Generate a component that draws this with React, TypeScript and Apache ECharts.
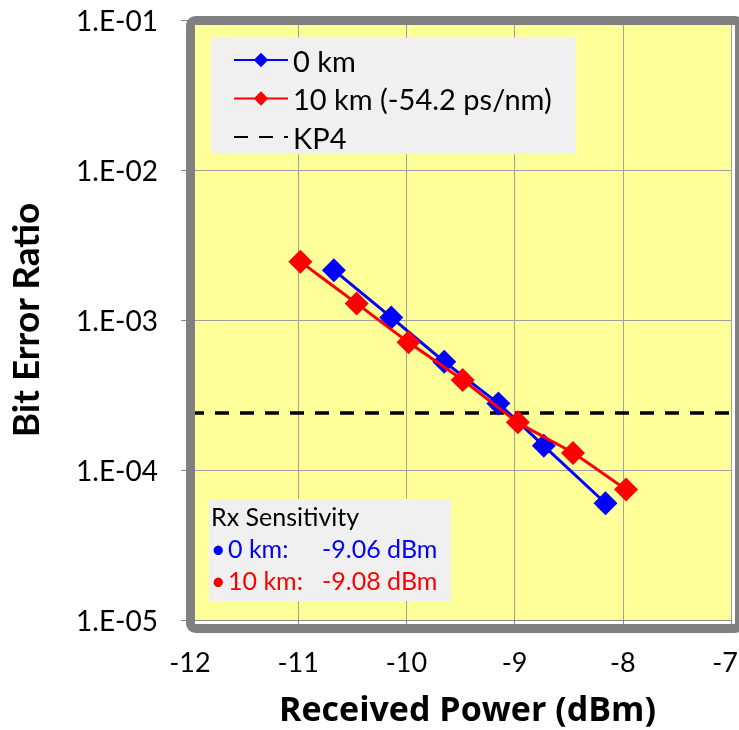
import React, { useEffect, useRef } from "react";
import * as echarts from "echarts";

// ---- data ----
const blueX = [-10.67, -10.14, -9.65, -9.15, -8.73, -8.16];
const blueY = [2.15e-3, 1.04e-3, 5.27e-4, 2.78e-4, 1.45e-4, 6.0e-5];
const redX = [-10.98, -10.46, -9.98, -9.48, -8.97, -8.46, -7.97];
const redY = [2.45e-3, 1.29e-3, 7.1e-4, 3.98e-4, 2.08e-4, 1.3e-4, 7.4e-5];
const kp4Level = 2.4e-4;
const xRange = [-12, -7];
const yRange = [1e-5, 1e-1];
const seriesNames = ["0 km", "10 km (-54.2 ps/nm)", "KP4"];
const sensTitle = "Rx Sensitivity";
const sensNames = ["0 km:", "10 km:"];
const sensValues = ["-9.06 dBm", "-9.08 dBm"];

const FONT = "Lato, 'Open Sans', sans-serif";
const BLUE = "#0000FF";
const RED = "#FF0000";

function fmtY(v: number) {
  const e = Math.round(Math.log10(v));
  const a = Math.abs(e);
  return "1.E" + (e < 0 ? "-" : "+") + (a < 10 ? "0" + a : String(a));
}

export default function App() {
  const ref = useRef<HTMLDivElement>(null);
  useEffect(() => {
    if (!ref.current) return;
    const chart = echarts.init(ref.current, null, { renderer: "svg" });
    const zip = (xs: number[], ys: number[]) => xs.map((x, i) => [x, ys[i]]);
    const sensFont = { fontSize: 25, fontFamily: FONT };
    chart.setOption({
      animation: false,
      textStyle: { fontFamily: FONT },
      grid: {
        left: 190,
        right: 8,
        top: 20,
        bottom: 110,
        show: true,
        containLabel: false,
        outerBoundsMode: "none",
        backgroundColor: "#FFFF99",
        borderWidth: 0,
      },
      xAxis: {
        type: "value",
        min: xRange[0],
        max: xRange[1],
        interval: 1,
        name: "Received Power (dBm)",
        nameLocation: "middle",
        nameGap: 71,
        nameTextStyle: {
          fontSize: 34,
          lineHeight: 34,
          fontWeight: "bold",
          color: "#000",
          fontFamily: "'Open Sans', sans-serif",
          padding: [0, 0, 0, 14],
        },
        axisLine: { show: true, onZero: false, lineStyle: { color: "#888", width: 1 } },
        axisTick: { show: true, length: 9, lineStyle: { color: "#888" } },
        axisLabel: {
          margin: 28,
          fontSize: 27,
          color: "#000",
          fontFamily: FONT,
          formatter: (v: number) => (v === xRange[1] ? "{last|" + v + "}" : String(v)),
          rich: { last: { width: 14, align: "right", fontSize: 27, fontFamily: FONT, color: "#000" } },
        },
        splitLine: { show: true, lineStyle: { color: "#A0A0A0", width: 1 } },
      },
      yAxis: {
        type: "log",
        logBase: 10,
        min: yRange[0],
        max: yRange[1],
        name: "Bit Error Ratio",
        nameLocation: "middle",
        nameGap: 147,
        nameRotate: 90,
        nameTextStyle: { fontSize: 37, fontWeight: "bold", color: "#000", fontFamily: FONT },
        axisLine: { show: true, lineStyle: { color: "#888", width: 1 } },
        axisTick: { show: true, length: 9, lineStyle: { color: "#888" } },
        axisLabel: { margin: 32, fontSize: 28, color: "#000", fontFamily: FONT, formatter: fmtY },
        splitLine: { show: true, lineStyle: { color: "#A0A0A0", width: 1 } },
        minorTick: { show: false },
      },
      legend: {
        show: true,
        left: 211,
        top: 38,
        orient: "vertical",
        backgroundColor: "#F0F0F0",
        padding: [7, 24, 2, 22],
        itemWidth: 54,
        itemHeight: 18,
        itemGap: 8.5,
        textStyle: { fontSize: 29, color: "#000", fontFamily: FONT, lineHeight: 30 },
        data: [
          { name: seriesNames[0] },
          { name: seriesNames[1] },
          { name: seriesNames[2], itemStyle: { opacity: 0 } },
        ],
      },
      graphic: [
        { type: "rect", left: 186, top: 16, shape: { width: 549, height: 608, r: 5 }, style: { fill: "none", stroke: "#808080", lineWidth: 9 }, z: 100, silent: true },
        { type: "rect", left: 209, top: 499, shape: { width: 242, height: 102 }, style: { fill: "#F0F0F0" }, z: 50 },
        { type: "text", left: 211, top: 503, style: { text: sensTitle, fill: "#000", ...sensFont }, z: 51 },
        { type: "text", left: 211, top: 535, style: { text: "•", fill: BLUE, ...sensFont }, z: 51 },
        { type: "text", left: 228, top: 535, style: { text: sensNames[0], fill: BLUE, ...sensFont }, z: 51 },
        { type: "text", left: 322, top: 535, style: { text: sensValues[0], fill: BLUE, ...sensFont }, z: 51 },
        { type: "text", left: 211, top: 567, style: { text: "•", fill: RED, ...sensFont }, z: 51 },
        { type: "text", left: 228, top: 567, style: { text: sensNames[1], fill: RED, ...sensFont }, z: 51 },
        { type: "text", left: 322, top: 567, style: { text: sensValues[1], fill: RED, ...sensFont }, z: 51 },
      ],
      series: [
        {
          name: seriesNames[0],
          type: "line",
          data: zip(blueX, blueY),
          symbol: "diamond",
          symbolSize: 24,
          itemStyle: { color: BLUE },
          lineStyle: { color: BLUE, width: 3 },
          z: 3,
        },
        {
          name: seriesNames[1],
          type: "line",
          data: zip(redX, redY),
          symbol: "diamond",
          symbolSize: 24,
          smooth: 0.2,
          itemStyle: { color: RED },
          lineStyle: { color: RED, width: 3 },
          z: 4,
        },
        {
          name: seriesNames[2],
          type: "line",
          data: [[xRange[0], kp4Level], [xRange[1], kp4Level]],
          symbol: "none",
          itemStyle: { color: "#000" },
          lineStyle: { color: "#000", width: 3.5, type: [14, 11] },
          z: 2,
        },
      ],
    });
    return () => chart.dispose();
  }, []);
  return <div ref={ref} style={{ position: "fixed", left: 0, top: 0, width: 739, height: 730 }} />;
}
